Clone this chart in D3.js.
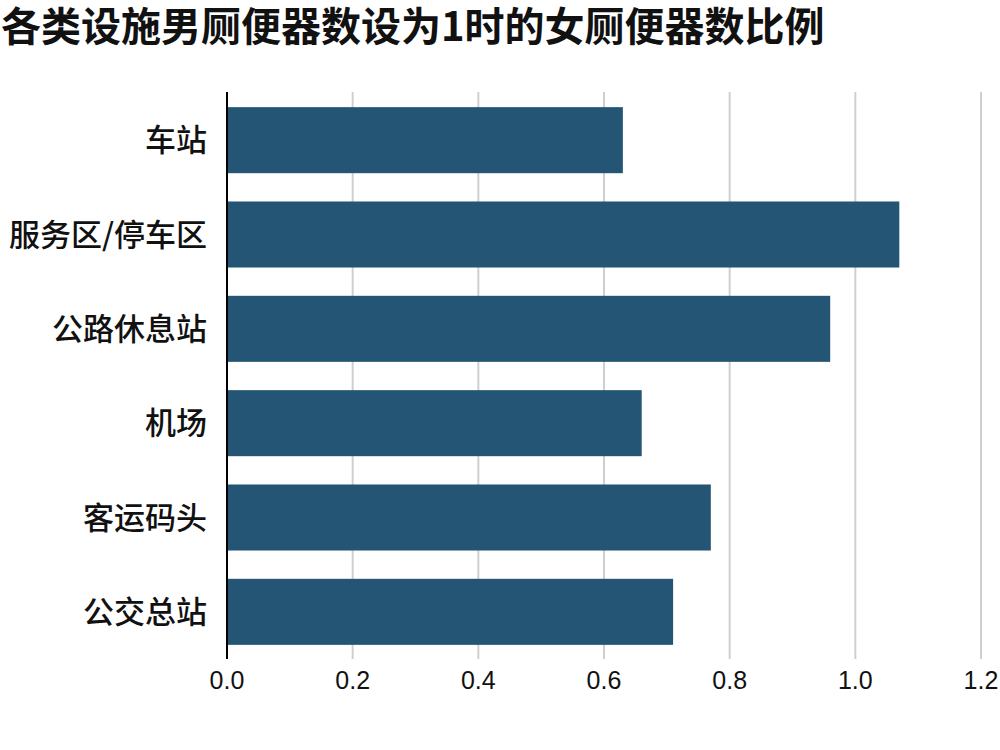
<!DOCTYPE html>
<html>
<head>
<meta charset="utf-8">
<script src="https://cdn.jsdelivr.net/npm/d3@7.9.0/dist/d3.min.js"></script>
<style>
  body { margin: 0; background: #fff; }
  svg { font-family: "Noto Sans CJK SC", "Noto Sans", sans-serif; }
</style>
</head>
<body>
<svg id="chart" width="1000" height="750"></svg>
<script>
const categories = ['车站', '服务区/停车区', '公路休息站', '机场', '客运码头', '公交总站'];
const ratios = [0.63, 1.07, 0.96, 0.66, 0.77, 0.71];
const xTicks = [0, 0.2, 0.4, 0.6, 0.8, 1.0, 1.2];
const title = '各类设施男厕便器数设为1时的女厕便器数比例';

const svg = d3.select('#chart');

svg.append('text')
  .attr('x', 1)
  .attr('y', 41)
  .attr('font-size', 40)
  .attr('font-weight', 'bold')
  .attr('fill', '#111')
  .text(title);

const x = d3.scaleLinear().domain([0, 1.2]).range([227, 981]);
const y = d3.scaleBand().domain(categories).range([93, 659]).paddingInner(0.3).paddingOuter(0.15);

// grid
svg.append('g')
  .selectAll('line')
  .data(xTicks.slice(1))
  .join('line')
  .attr('x1', d => x(d))
  .attr('x2', d => x(d))
  .attr('y1', 92)
  .attr('y2', 659)
  .attr('stroke', '#cfcfcf')
  .attr('stroke-width', 2);

svg.append('g')
  .selectAll('rect')
  .data(categories)
  .join('rect')
  .attr('x', x(0))
  .attr('y', d => y(d))
  .attr('width', (d, i) => x(ratios[i]) - x(0))
  .attr('height', y.bandwidth())
  .attr('fill', '#245574');

// baseline
svg.append('line')
  .attr('x1', x(0))
  .attr('x2', x(0))
  .attr('y1', 92)
  .attr('y2', 659)
  .attr('stroke', '#000')
  .attr('stroke-width', 2);

// category labels
svg.append('g')
  .selectAll('text')
  .data(categories)
  .join('text')
  .attr('x', 207)
  .attr('y', d => y(d) + y.bandwidth() / 2)
  .attr('dy', '0.36em')
  .attr('text-anchor', 'end')
  .attr('font-size', 31)
  .attr('font-weight', 500)
  .attr('fill', '#111')
  .text(d => d);

// x tick labels
svg.append('g')
  .selectAll('text')
  .data(xTicks)
  .join('text')
  .attr('x', d => x(d))
  .attr('y', 680)
  .attr('dy', '0.36em')
  .attr('text-anchor', 'middle')
  .attr('font-size', 25)
  .attr('font-family', 'Liberation Sans, sans-serif')
  .attr('fill', '#111')
  .text(d => d3.format('.1f')(d));
</script>
</body>
</html>
